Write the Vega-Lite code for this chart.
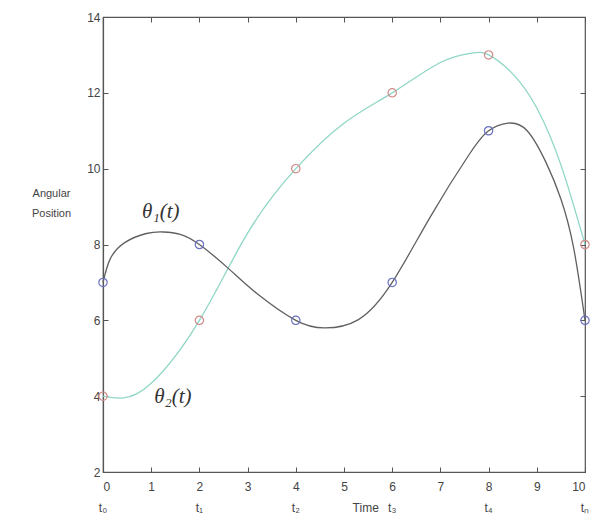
{
  "$schema": "https://vega.github.io/schema/vega-lite/v6.json",
  "width": 482,
  "height": 455,
  "autosize": "none",
  "padding": {"left": 103, "top": 17, "right": 12, "bottom": 48},
  "background": "white",
  "config": {
    "view": {"stroke": "#555", "strokeWidth": 1.2},
    "axis": {
      "grid": false,
      "domainColor": "#555",
      "domainWidth": 1.2,
      "tickColor": "#555",
      "tickSize": -5,
      "labelColor": "#444",
      "labelFont": "Liberation Sans",
      "labelFontSize": 12,
      "titleFont": "Liberation Sans",
      "titleFontWeight": "normal",
      "titleColor": "#444",
      "titleFontSize": 11
    }
  },
  "datasets": {
    "pts": [
      {"series": "theta1", "t": 0, "value": 7},
      {"series": "theta1", "t": 2, "value": 8},
      {"series": "theta1", "t": 4, "value": 6},
      {"series": "theta1", "t": 6, "value": 7},
      {"series": "theta1", "t": 8, "value": 11},
      {"series": "theta1", "t": 10, "value": 6},
      {"series": "theta2", "t": 0, "value": 4},
      {"series": "theta2", "t": 2, "value": 6},
      {"series": "theta2", "t": 4, "value": 10},
      {"series": "theta2", "t": 6, "value": 12},
      {"series": "theta2", "t": 8, "value": 13},
      {"series": "theta2", "t": 10, "value": 8}
    ],
    "curve1": [
      {"t": 0, "value": 7}, {"t": 0.15, "value": 7.62}, {"t": 0.45, "value": 8.05},
      {"t": 0.9, "value": 8.29}, {"t": 1.25, "value": 8.33}, {"t": 1.6, "value": 8.27},
      {"t": 2, "value": 8}, {"t": 2.6, "value": 7.37}, {"t": 3.2, "value": 6.7},
      {"t": 4, "value": 6}, {"t": 4.6, "value": 5.8}, {"t": 5.3, "value": 6.02},
      {"t": 6, "value": 7}, {"t": 6.8, "value": 8.75}, {"t": 7.6, "value": 10.38},
      {"t": 8, "value": 11}, {"t": 8.4, "value": 11.2}, {"t": 8.8, "value": 11.0},
      {"t": 9.2, "value": 10.14}, {"t": 9.5, "value": 9.2}, {"t": 9.76, "value": 7.94},
      {"t": 10, "value": 6}
    ],
    "curve2": [
      {"t": 0, "value": 4}, {"t": 0.4, "value": 3.95}, {"t": 1.0, "value": 4.34},
      {"t": 2, "value": 6}, {"t": 3.0, "value": 8.3},
      {"t": 4, "value": 10}, {"t": 5.0, "value": 11.2},
      {"t": 6, "value": 12}, {"t": 7.0, "value": 12.8},
      {"t": 7.65, "value": 13.05}, {"t": 8, "value": 13}, {"t": 8.5, "value": 12.5},
      {"t": 9.0, "value": 11.6}, {"t": 9.5, "value": 10.1},
      {"t": 10, "value": 8}
    ],
    "knots": [
      {"t": 0, "value": 1.05, "label": "t₀"},
      {"t": 2, "value": 1.05, "label": "t₁"},
      {"t": 4, "value": 1.05, "label": "t₂"},
      {"t": 5.45, "value": 1.05, "label": "Time"},
      {"t": 6, "value": 1.05, "label": "t₃"},
      {"t": 8, "value": 1.05, "label": "t₄"},
      {"t": 10, "value": 1.05, "label": "tₙ"}
    ],
    "curvelabels": [
      {"t": 1.2, "value": 8.85, "label": "θ₁(t)"},
      {"t": 1.45, "value": 3.98, "label": "θ₂(t)"}
    ]
  },
  "layer": [
    {
      "data": {"name": "curve2"},
      "mark": {"type": "line", "interpolate": "natural", "stroke": "#8fd6c6", "strokeWidth": 1.3},
      "encoding": {
        "x": {"field": "t", "type": "quantitative", "scale": {"domain": [0, 10], "nice": false},
              "axis": {"values": [0,1,2,3,4,5,6,7,8,9,10], "title": null, "labelPadding": 14}},
        "y": {"field": "value", "type": "quantitative", "scale": {"domain": [2, 14], "nice": false},
              "axis": {"values": [2,4,6,8,10,12,14], "title": ["Angular", "Position"], "titleAngle": 0,
                       "titleAlign": "center", "titleBaseline": "middle", "titleX": -52, "titleY": 176,
                       "titleLineHeight": 20, "labelPadding": 8}}
      }
    },
    {
      "data": {"name": "curve1"},
      "mark": {"type": "line", "interpolate": "natural", "stroke": "#606060", "strokeWidth": 1.3},
      "encoding": {
        "x": {"field": "t", "type": "quantitative", "axis": {"orient": "top", "values": [0,1,2,3,4,5,6,7,8,9,10], "labels": false, "title": null, "domain": false}},
        "y": {"field": "value", "type": "quantitative", "axis": {"orient": "right", "values": [2,4,6,8,10,12,14], "labels": false, "title": null, "domain": false}}
      }
    },
    {
      "data": {"name": "pts"},
      "transform": [{"filter": "datum.series === 'theta1'"}],
      "mark": {"type": "point", "filled": false, "stroke": "#6a6fc0", "strokeWidth": 1.2, "size": 70, "opacity": 1},
      "encoding": {
        "x": {"field": "t", "type": "quantitative", "axis": null},
        "y": {"field": "value", "type": "quantitative", "axis": null}
      }
    },
    {
      "data": {"name": "pts"},
      "transform": [{"filter": "datum.series === 'theta2'"}],
      "mark": {"type": "point", "filled": false, "stroke": "#d08a8a", "strokeWidth": 1.2, "size": 70, "opacity": 1},
      "encoding": {
        "x": {"field": "t", "type": "quantitative", "axis": null},
        "y": {"field": "value", "type": "quantitative", "axis": null}
      }
    },
    {
      "data": {"name": "knots"},
      "mark": {"type": "text", "font": "Liberation Sans", "fontSize": 12, "fill": "#444", "baseline": "middle", "align": "center"},
      "encoding": {
        "x": {"field": "t", "type": "quantitative", "axis": null},
        "y": {"field": "value", "type": "quantitative", "axis": null},
        "text": {"field": "label"}
      }
    },
    {
      "data": {"name": "curvelabels"},
      "mark": {"type": "text", "font": "Liberation Serif", "fontStyle": "italic", "fontSize": 21, "fill": "#333", "baseline": "middle", "align": "center"},
      "encoding": {
        "x": {"field": "t", "type": "quantitative", "axis": null},
        "y": {"field": "value", "type": "quantitative", "axis": null},
        "text": {"field": "label"}
      }
    }
  ],
  "resolve": {"axis": {"x": "independent", "y": "independent"}}
}
